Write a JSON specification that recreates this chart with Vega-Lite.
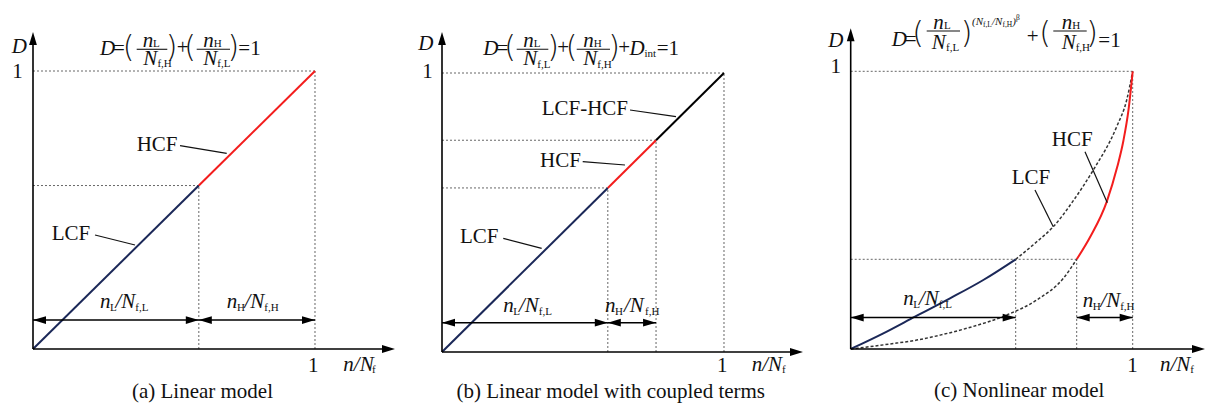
{
"$schema": "https://vega.github.io/schema/vega-lite/v6.json",
"padding": 0,
"background": "white",
"spacing": 0,
"bounds": "flush",
"config": {"view": {"stroke": null}},
"datasets": {
"lines": [
{"p":"a","s":"LCF","x":0,"y":0},{"p":"a","s":"LCF","x":0.588,"y":0.588},
{"p":"a","s":"HCF","x":0.588,"y":0.588},{"p":"a","s":"HCF","x":1,"y":1},
{"p":"b","s":"LCF","x":0,"y":0},{"p":"b","s":"LCF","x":0.588,"y":0.588},
{"p":"b","s":"HCF","x":0.588,"y":0.588},{"p":"b","s":"HCF","x":0.759,"y":0.759},
{"p":"b","s":"LCF-HCF","x":0.759,"y":0.759},{"p":"b","s":"LCF-HCF","x":1,"y":1},
{"p":"c","s":"LCF","x":0,"y":0},{"p":"c","s":"LCF","x":0.1157,"y":0.0564},{"p":"c","s":"LCF","x":0.228,"y":0.1164},{"p":"c","s":"LCF","x":0.3521,"y":0.1824},{"p":"c","s":"LCF","x":0.4702,"y":0.2485},{"p":"c","s":"LCF","x":0.5851,"y":0.323},
{"p":"c","s":"LCFd","x":0.5851,"y":0.323},{"p":"c","s":"LCFd","x":0.6596,"y":0.386},{"p":"c","s":"LCFd","x":0.7184,"y":0.4404},{"p":"c","s":"LCFd","x":0.79,"y":0.535},{"p":"c","s":"LCFd","x":0.8603,"y":0.6446},{"p":"c","s":"LCFd","x":0.943,"y":0.8},{"p":"c","s":"LCFd","x":0.9787,"y":0.8966},{"p":"c","s":"LCFd","x":1,"y":1},
{"p":"c","s":"HCFd","x":0,"y":0},{"p":"c","s":"HCFd","x":0.139,"y":0.018},{"p":"c","s":"HCFd","x":0.234,"y":0.032},{"p":"c","s":"HCFd","x":0.317,"y":0.05},{"p":"c","s":"HCFd","x":0.411,"y":0.0745},{"p":"c","s":"HCFd","x":0.553,"y":0.1224},{"p":"c","s":"HCFd","x":0.6596,"y":0.1764},{"p":"c","s":"HCFd","x":0.754,"y":0.2545},{"p":"c","s":"HCFd","x":0.8014,"y":0.323},
{"p":"c","s":"HCF","x":0.8014,"y":0.323},{"p":"c","s":"HCF","x":0.85,"y":0.405},{"p":"c","s":"HCF","x":0.9078,"y":0.53},{"p":"c","s":"HCF","x":0.945,"y":0.655},{"p":"c","s":"HCF","x":0.967,"y":0.75},{"p":"c","s":"HCF","x":0.985,"y":0.86},{"p":"c","s":"HCF","x":1,"y":1}
],
"rules": [
{"p":"a","k":"ax","x":0,"y":0,"x2":1.266,"y2":0},{"p":"a","k":"ax","x":0,"y":0,"x2":0,"y2":1.122},
{"p":"a","k":"g","x":0,"y":1,"x2":1,"y2":1},{"p":"a","k":"g","x":1,"y":0,"x2":1,"y2":1},
{"p":"a","k":"g","x":0,"y":0.588,"x2":0.588,"y2":0.588},{"p":"a","k":"g","x":0.588,"y":0,"x2":0.588,"y2":0.588},
{"p":"a","k":"d","x":0,"y":0.104,"x2":0.588,"y2":0.104},{"p":"a","k":"d","x":0.588,"y":0.104,"x2":1,"y2":0.104},
{"p":"a","k":"ld","x":0.5213,"y":0.7313,"x2":0.6869,"y2":0.704},{"p":"a","k":"ld","x":0.2199,"y":0.4101,"x2":0.3617,"y2":0.3741},
{"p":"a","k":"fb","x":0.3677,"y":1.0781,"x2":0.4762,"y2":1.0781},{"p":"a","k":"fb","x":0.5805,"y":1.0781,"x2":0.6986,"y2":1.0781},
{"p":"b","k":"ax","x":0,"y":0,"x2":1.2624,"y2":0},{"p":"b","k":"ax","x":0,"y":0,"x2":0,"y2":1.129},
{"p":"b","k":"g","x":0,"y":1,"x2":1,"y2":1},{"p":"b","k":"g","x":1,"y":0,"x2":1,"y2":1},
{"p":"b","k":"g","x":0,"y":0.588,"x2":0.588,"y2":0.588},{"p":"b","k":"g","x":0.588,"y":0,"x2":0.588,"y2":0.588},
{"p":"b","k":"g","x":0,"y":0.759,"x2":0.759,"y2":0.759},{"p":"b","k":"g","x":0.759,"y":0,"x2":0.759,"y2":0.759},
{"p":"b","k":"d","x":0,"y":0.105,"x2":0.588,"y2":0.105},{"p":"b","k":"d","x":0.588,"y":0.105,"x2":0.759,"y2":0.105},
{"p":"b","k":"ld","x":0.6667,"y":0.8674,"x2":0.8298,"y2":0.8434},{"p":"b","k":"ld","x":0.4989,"y":0.6821,"x2":0.6489,"y2":0.6703},{"p":"b","k":"ld","x":0.2174,"y":0.4075,"x2":0.3535,"y2":0.3717},
{"p":"b","k":"fb","x":0.2649,"y":1.0849,"x2":0.377,"y2":1.0849},{"p":"b","k":"fb","x":0.4777,"y":1.0849,"x2":0.5957,"y2":1.0849},
{"p":"c","k":"ax","x":0,"y":0,"x2":1.2387,"y2":0},{"p":"c","k":"ax","x":0,"y":0,"x2":0,"y2":1.1368},
{"p":"c","k":"g","x":0,"y":1,"x2":1,"y2":1},{"p":"c","k":"g","x":1,"y":0,"x2":1,"y2":1},
{"p":"c","k":"g","x":0,"y":0.323,"x2":0.8014,"y2":0.323},{"p":"c","k":"g","x":0.5851,"y":0,"x2":0.5851,"y2":0.323},{"p":"c","k":"g","x":0.8014,"y":0,"x2":0.8014,"y2":0.323},
{"p":"c","k":"d","x":0,"y":0.113,"x2":0.5851,"y2":0.113},{"p":"c","k":"d","x":0.8014,"y":0.113,"x2":1,"y2":0.113},
{"p":"c","k":"ld","x":0.8309,"y":0.7105,"x2":0.9099,"y2":0.5268},{"p":"c","k":"ld","x":0.6535,"y":0.5726,"x2":0.7184,"y2":0.4404},
{"p":"c","k":"fb","x":0.2695,"y":1.1451,"x2":0.3876,"y2":1.1451},{"p":"c","k":"fb","x":0.7184,"y":1.1451,"x2":0.8369,"y2":1.1451}
],
"heads": [
{"p":"a","x":1.2837,"y":0,"d":"r"},{"p":"a","x":0,"y":1.1403,"d":"u"},{"p":"a","x":0,"y":0.104,"d":"l"},{"p":"a","x":0.588,"y":0.104,"d":"r"},{"p":"a","x":0.588,"y":0.104,"d":"l"},{"p":"a","x":1,"y":0.104,"d":"r"},
{"p":"b","x":1.2801,"y":0,"d":"r"},{"p":"b","x":0,"y":1.147,"d":"u"},{"p":"b","x":0,"y":0.105,"d":"l"},{"p":"b","x":0.588,"y":0.105,"d":"r"},{"p":"b","x":0.588,"y":0.105,"d":"l"},{"p":"b","x":0.759,"y":0.105,"d":"r"},
{"p":"c","x":1.2564,"y":0,"d":"r"},{"p":"c","x":0,"y":1.1548,"d":"u"},{"p":"c","x":0,"y":0.113,"d":"l"},{"p":"c","x":0.5851,"y":0.113,"d":"r"},{"p":"c","x":0.8014,"y":0.113,"d":"l"},{"p":"c","x":1,"y":0.113,"d":"r"}
],
"texts": [
{"p":"a","r":"it","x":-0.0755,"y":1.0637,"t":"D"},
{"p":"a","r":"ct","x":-0.055,"y":0.9737,"t":"1"},
{"p":"a","r":"ct","x":0.994,"y":-0.0816,"t":"1"},
{"p":"a","r":"it","x":1.1004,"y":-0.078,"t":"n/N"},
{"p":"a","r":"sb","x":1.2018,"y":-0.0874,"t":"f"},
{"p":"a","r":"rm","x":0.3677,"y":0.7133,"t":"HCF"},
{"p":"a","r":"rm","x":0.0663,"y":0.3921,"t":"LCF"},
{"p":"a","r":"it","x":0.2376,"y":0.1464,"t":"n"},
{"p":"a","r":"sb","x":0.273,"y":0.1349,"t":"L"},
{"p":"a","r":"it","x":0.2926,"y":0.1464,"t":"/N"},
{"p":"a","r":"sb","x":0.3628,"y":0.1349,"t":"f,L"},
{"p":"a","r":"it","x":0.6869,"y":0.1464,"t":"n"},
{"p":"a","r":"sb","x":0.7234,"y":0.1349,"t":"H"},
{"p":"a","r":"it","x":0.75,"y":0.1464,"t":"/N"},
{"p":"a","r":"sb","x":0.8202,"y":0.1349,"t":"f,H"},
{"p":"a","r":"it","x":0.2376,"y":1.0576,"t":"D"},
{"p":"a","r":"rm","x":0.2837,"y":1.0576,"t":"="},
{"p":"a","r":"pr","x":0.3387,"y":1.0486,"t":"("},
{"p":"a","r":"it","x":0.389,"y":1.0863,"t":"n"},
{"p":"a","r":"sb","x":0.4255,"y":1.0874,"t":"L"},
{"p":"a","r":"it","x":0.3911,"y":1.0216,"t":"N"},
{"p":"a","r":"sb","x":0.4411,"y":1.0126,"t":"f,H"},
{"p":"a","r":"pr","x":0.4911,"y":1.0486,"t":")"},
{"p":"a","r":"rm","x":0.5096,"y":1.0612,"t":"+"},
{"p":"a","r":"pr","x":0.5567,"y":1.0486,"t":"("},
{"p":"a","r":"it","x":0.6039,"y":1.0863,"t":"n"},
{"p":"a","r":"sb","x":0.6411,"y":1.0874,"t":"H"},
{"p":"a","r":"it","x":0.6039,"y":1.0216,"t":"N"},
{"p":"a","r":"sb","x":0.6535,"y":1.0126,"t":"f,L"},
{"p":"a","r":"pr","x":0.7103,"y":1.0486,"t":")"},
{"p":"a","r":"rm","x":0.728,"y":1.0576,"t":"=1"},
{"p":"a","r":"ct","x":0.601,"y":-0.1745,"t":"(a) Linear model"},
{"p":"b","r":"it","x":-0.084,"y":1.0824,"t":"D"},
{"p":"b","r":"ct","x":-0.0514,"y":0.981,"t":"1"},
{"p":"b","r":"ct","x":0.994,"y":-0.0706,"t":"1"},
{"p":"b","r":"it","x":1.098,"y":-0.067,"t":"n/N"},
{"p":"b","r":"sb","x":1.2057,"y":-0.0763,"t":"f"},
{"p":"b","r":"rm","x":0.3535,"y":0.8495,"t":"LCF-HCF"},
{"p":"b","r":"rm","x":0.3475,"y":0.6642,"t":"HCF"},
{"p":"b","r":"rm","x":0.0638,"y":0.3918,"t":"LCF"},
{"p":"b","r":"it","x":0.2174,"y":0.1444,"t":"n"},
{"p":"b","r":"sb","x":0.2528,"y":0.1326,"t":"L"},
{"p":"b","r":"it","x":0.273,"y":0.1444,"t":"/N"},
{"p":"b","r":"sb","x":0.3433,"y":0.1326,"t":"f,L"},
{"p":"b","r":"it","x":0.578,"y":0.1444,"t":"n"},
{"p":"b","r":"sb","x":0.6135,"y":0.1326,"t":"H"},
{"p":"b","r":"it","x":0.6454,"y":0.1444,"t":"/N"},
{"p":"b","r":"sb","x":0.7199,"y":0.1326,"t":"f,H"},
{"p":"b","r":"it","x":0.1465,"y":1.0645,"t":"D"},
{"p":"b","r":"rm","x":0.1933,"y":1.0645,"t":"="},
{"p":"b","r":"pr","x":0.2411,"y":1.0556,"t":"("},
{"p":"b","r":"it","x":0.2883,"y":1.0932,"t":"n"},
{"p":"b","r":"sb","x":0.3255,"y":1.0943,"t":"L"},
{"p":"b","r":"it","x":0.2883,"y":1.0287,"t":"N"},
{"p":"b","r":"sb","x":0.3379,"y":1.0197,"t":"f,L"},
{"p":"b","r":"pr","x":0.3936,"y":1.0556,"t":")"},
{"p":"b","r":"rm","x":0.4089,"y":1.0681,"t":"+"},
{"p":"b","r":"pr","x":0.4599,"y":1.0556,"t":"("},
{"p":"b","r":"it","x":0.5011,"y":1.0932,"t":"n"},
{"p":"b","r":"sb","x":0.5383,"y":1.0943,"t":"H"},
{"p":"b","r":"it","x":0.5011,"y":1.0287,"t":"N"},
{"p":"b","r":"sb","x":0.5507,"y":1.0197,"t":"f,H"},
{"p":"b","r":"pr","x":0.6099,"y":1.0556,"t":")"},
{"p":"b","r":"rm","x":0.6252,"y":1.0681,"t":"+"},
{"p":"b","r":"it","x":0.665,"y":1.0645,"t":"D"},
{"p":"b","r":"sb","x":0.7182,"y":1.0563,"t":"int"},
{"p":"b","r":"rm","x":0.7614,"y":1.0645,"t":"=1"},
{"p":"b","r":"ct","x":0.5986,"y":-0.1631,"t":"(b) Linear model with coupled terms"},
{"p":"c","r":"it","x":-0.0794,"y":1.0886,"t":"D"},
{"p":"c","r":"ct","x":-0.0528,"y":0.9928,"t":"1"},
{"p":"c","r":"ct","x":0.9993,"y":-0.0817,"t":"1"},
{"p":"c","r":"it","x":1.0968,"y":-0.0781,"t":"n/N"},
{"p":"c","r":"sb","x":1.2043,"y":-0.0877,"t":"f"},
{"p":"c","r":"rm","x":0.7128,"y":0.731,"t":"HCF"},
{"p":"c","r":"rm","x":0.5709,"y":0.5942,"t":"LCF"},
{"p":"c","r":"it","x":0.1865,"y":0.1602,"t":"n"},
{"p":"c","r":"sb","x":0.222,"y":0.1484,"t":"L"},
{"p":"c","r":"it","x":0.2422,"y":0.1602,"t":"/N"},
{"p":"c","r":"sb","x":0.3124,"y":0.1484,"t":"f,L"},
{"p":"c","r":"it","x":0.8227,"y":0.1523,"t":"n"},
{"p":"c","r":"sb","x":0.8582,"y":0.1404,"t":"H"},
{"p":"c","r":"it","x":0.8855,"y":0.1523,"t":"/N"},
{"p":"c","r":"sb","x":0.9557,"y":0.1404,"t":"f,H"},
{"p":"c","r":"it","x":0.1454,"y":1.0911,"t":"D"},
{"p":"c","r":"rm","x":0.1918,"y":1.0911,"t":"="},
{"p":"c","r":"pr","x":0.2387,"y":1.1019,"t":"("},
{"p":"c","r":"it","x":0.2929,"y":1.1541,"t":"n"},
{"p":"c","r":"sb","x":0.3309,"y":1.1541,"t":"L"},
{"p":"c","r":"it","x":0.2872,"y":1.0814,"t":"N"},
{"p":"c","r":"sb","x":0.3379,"y":1.0731,"t":"f,L"},
{"p":"c","r":"pr","x":0.4113,"y":1.1019,"t":")"},
{"p":"c","r":"ei","x":0.4301,"y":1.1667,"t":"(N"},
{"p":"c","r":"es","x":0.4691,"y":1.1595,"t":"f,L"},
{"p":"c","r":"ei","x":0.5011,"y":1.1667,"t":"/N"},
{"p":"c","r":"es","x":0.5379,"y":1.1595,"t":"f,H"},
{"p":"c","r":"ei","x":0.5727,"y":1.1667,"t":")"},
{"p":"c","r":"es","x":0.5862,"y":1.1847,"t":"β"},
{"p":"c","r":"rm","x":0.6241,"y":1.1019,"t":"+"},
{"p":"c","r":"pr","x":0.689,"y":1.1019,"t":"("},
{"p":"c","r":"it","x":0.7482,"y":1.1541,"t":"n"},
{"p":"c","r":"sb","x":0.7855,"y":1.1541,"t":"H"},
{"p":"c","r":"it","x":0.7482,"y":1.0814,"t":"N"},
{"p":"c","r":"sb","x":0.7979,"y":1.0731,"t":"f,H"},
{"p":"c","r":"pr","x":0.8557,"y":1.1019,"t":")"},
{"p":"c","r":"rm","x":0.878,"y":1.0875,"t":"=1"},
{"p":"c","r":"ct","x":0.5975,"y":-0.1746,"t":"(c) Nonlinear model"}
]
},
"hconcat": [
{
"width": 405, "height": 406,
"encoding": {
"x": {"field": "x", "type": "quantitative", "scale": {"domain": [-0.117021, 1.319149], "nice": false, "zero": false}, "axis": null},
"y": {"field": "y", "type": "quantitative", "scale": {"domain": [-0.205036, 1.255396], "nice": false, "zero": false}, "axis": null}
},
"layer": [
{"data": {"name": "rules"}, "transform": [{"filter": "datum.p=='a' && datum.k=='g'"}], "mark": {"type": "rule", "color": "#666666", "strokeDash": [2, 2], "strokeWidth": 1}, "encoding": {"x2": {"field": "x2"}, "y2": {"field": "y2"}}},
{"data": {"name": "lines"}, "transform": [{"filter": "datum.p=='a'"}], "mark": {"type": "line", "strokeWidth": 2, "interpolate": "monotone"}, "encoding": {"color": {"field": "s", "type": "nominal", "scale": {"domain": ["LCF", "HCF", "LCF-HCF"], "range": ["#1b2858", "#f31d1d", "#000000"]}, "legend": null}}},
{"data": {"name": "rules"}, "transform": [{"filter": "datum.p=='a' && datum.k=='ax'"}], "mark": {"type": "rule", "color": "#000000", "strokeWidth": 1.6}, "encoding": {"x2": {"field": "x2"}, "y2": {"field": "y2"}}},
{"data": {"name": "rules"}, "transform": [{"filter": "datum.p=='a' && datum.k=='d'"}], "mark": {"type": "rule", "color": "#000000", "strokeWidth": 1.5}, "encoding": {"x2": {"field": "x2"}, "y2": {"field": "y2"}}},
{"data": {"name": "rules"}, "transform": [{"filter": "datum.p=='a' && datum.k=='ld'"}], "mark": {"type": "rule", "color": "#111111", "strokeWidth": 1.2}, "encoding": {"x2": {"field": "x2"}, "y2": {"field": "y2"}}},
{"data": {"name": "rules"}, "transform": [{"filter": "datum.p=='a' && datum.k=='fb'"}], "mark": {"type": "rule", "color": "#111111", "strokeWidth": 1.1}, "encoding": {"x2": {"field": "x2"}, "y2": {"field": "y2"}}},
{"data": {"name": "heads"}, "transform": [{"filter": "datum.p=='a'"}], "mark": {"type": "point", "filled": true, "opacity": 1, "color": "#000000", "size": 169, "strokeWidth": 0}, "encoding": {"shape": {"field": "d", "type": "nominal", "scale": {"domain": ["l", "r", "u"], "range": ["M0,0L2,-0.6L2,0.6Z", "M0,0L-2,-0.6L-2,0.6Z", "M0,0L-0.6,2L0.6,2Z"]}, "legend": null}}},
{"data": {"name": "texts"}, "transform": [{"filter": "datum.p=='a' && datum.r=='it'"}], "mark": {"type": "text", "font": "Liberation Serif", "fontSize": 21, "fontStyle": "italic", "align": "left", "baseline": "alphabetic", "color": "#111111"}, "encoding": {"text": {"field": "t"}}},
{"data": {"name": "texts"}, "transform": [{"filter": "datum.p=='a' && datum.r=='rm'"}], "mark": {"type": "text", "font": "Liberation Serif", "fontSize": 21, "align": "left", "baseline": "alphabetic", "color": "#111111"}, "encoding": {"text": {"field": "t"}}},
{"data": {"name": "texts"}, "transform": [{"filter": "datum.p=='a' && datum.r=='ct'"}], "mark": {"type": "text", "font": "Liberation Serif", "fontSize": 21, "align": "center", "baseline": "alphabetic", "color": "#111111"}, "encoding": {"text": {"field": "t"}}},
{"data": {"name": "texts"}, "transform": [{"filter": "datum.p=='a' && datum.r=='sb'"}], "mark": {"type": "text", "font": "Liberation Serif", "fontSize": 11, "align": "left", "baseline": "alphabetic", "color": "#111111"}, "encoding": {"text": {"field": "t"}}},
{"data": {"name": "texts"}, "transform": [{"filter": "datum.p=='a' && datum.r=='pr'"}], "mark": {"type": "text", "font": "DejaVu Sans", "fontWeight": 200, "fontSize": 30, "align": "center", "baseline": "alphabetic", "color": "#111111"}, "encoding": {"text": {"field": "t"}}}
]
},
{
"width": 405, "height": 406,
"encoding": {
"x": {"field": "x", "type": "quantitative", "scale": {"domain": [-0.131206, 1.304965], "nice": false, "zero": false}, "axis": null},
"y": {"field": "y", "type": "quantitative", "scale": {"domain": [-0.193548, 1.261649], "nice": false, "zero": false}, "axis": null}
},
"layer": [
{"data": {"name": "rules"}, "transform": [{"filter": "datum.p=='b' && datum.k=='g'"}], "mark": {"type": "rule", "color": "#666666", "strokeDash": [2, 2], "strokeWidth": 1}, "encoding": {"x2": {"field": "x2"}, "y2": {"field": "y2"}}},
{"data": {"name": "lines"}, "transform": [{"filter": "datum.p=='b'"}], "mark": {"type": "line", "strokeWidth": 2, "interpolate": "monotone"}, "encoding": {"color": {"field": "s", "type": "nominal", "scale": {"domain": ["LCF", "HCF", "LCF-HCF"], "range": ["#1b2858", "#f31d1d", "#000000"]}, "legend": null}}},
{"data": {"name": "rules"}, "transform": [{"filter": "datum.p=='b' && datum.k=='ax'"}], "mark": {"type": "rule", "color": "#000000", "strokeWidth": 1.6}, "encoding": {"x2": {"field": "x2"}, "y2": {"field": "y2"}}},
{"data": {"name": "rules"}, "transform": [{"filter": "datum.p=='b' && datum.k=='d'"}], "mark": {"type": "rule", "color": "#000000", "strokeWidth": 1.5}, "encoding": {"x2": {"field": "x2"}, "y2": {"field": "y2"}}},
{"data": {"name": "rules"}, "transform": [{"filter": "datum.p=='b' && datum.k=='ld'"}], "mark": {"type": "rule", "color": "#111111", "strokeWidth": 1.2}, "encoding": {"x2": {"field": "x2"}, "y2": {"field": "y2"}}},
{"data": {"name": "rules"}, "transform": [{"filter": "datum.p=='b' && datum.k=='fb'"}], "mark": {"type": "rule", "color": "#111111", "strokeWidth": 1.1}, "encoding": {"x2": {"field": "x2"}, "y2": {"field": "y2"}}},
{"data": {"name": "heads"}, "transform": [{"filter": "datum.p=='b'"}], "mark": {"type": "point", "filled": true, "opacity": 1, "color": "#000000", "size": 169, "strokeWidth": 0}, "encoding": {"shape": {"field": "d", "type": "nominal", "scale": {"domain": ["l", "r", "u"], "range": ["M0,0L2,-0.6L2,0.6Z", "M0,0L-2,-0.6L-2,0.6Z", "M0,0L-0.6,2L0.6,2Z"]}, "legend": null}}},
{"data": {"name": "texts"}, "transform": [{"filter": "datum.p=='b' && datum.r=='it'"}], "mark": {"type": "text", "font": "Liberation Serif", "fontSize": 21, "fontStyle": "italic", "align": "left", "baseline": "alphabetic", "color": "#111111"}, "encoding": {"text": {"field": "t"}}},
{"data": {"name": "texts"}, "transform": [{"filter": "datum.p=='b' && datum.r=='rm'"}], "mark": {"type": "text", "font": "Liberation Serif", "fontSize": 21, "align": "left", "baseline": "alphabetic", "color": "#111111"}, "encoding": {"text": {"field": "t"}}},
{"data": {"name": "texts"}, "transform": [{"filter": "datum.p=='b' && datum.r=='ct'"}], "mark": {"type": "text", "font": "Liberation Serif", "fontSize": 21, "align": "center", "baseline": "alphabetic", "color": "#111111"}, "encoding": {"text": {"field": "t"}}},
{"data": {"name": "texts"}, "transform": [{"filter": "datum.p=='b' && datum.r=='sb'"}], "mark": {"type": "text", "font": "Liberation Serif", "fontSize": 11, "align": "left", "baseline": "alphabetic", "color": "#111111"}, "encoding": {"text": {"field": "t"}}},
{"data": {"name": "texts"}, "transform": [{"filter": "datum.p=='b' && datum.r=='pr'"}], "mark": {"type": "text", "font": "DejaVu Sans", "fontWeight": 200, "fontSize": 30, "align": "center", "baseline": "alphabetic", "color": "#111111"}, "encoding": {"text": {"field": "t"}}}
]
},
{
"width": 397, "height": 406,
"encoding": {
"x": {"field": "x", "type": "quantitative", "scale": {"domain": [-0.144326, 1.263475], "nice": false, "zero": false}, "axis": null},
"y": {"field": "y", "type": "quantitative", "scale": {"domain": [-0.205258, 1.256752], "nice": false, "zero": false}, "axis": null}
},
"layer": [
{"data": {"name": "rules"}, "transform": [{"filter": "datum.p=='c' && datum.k=='g'"}], "mark": {"type": "rule", "color": "#666666", "strokeDash": [2, 2], "strokeWidth": 1}, "encoding": {"x2": {"field": "x2"}, "y2": {"field": "y2"}}},
{"data": {"name": "lines"}, "transform": [{"filter": "datum.p=='c' && (datum.s=='LCFd' || datum.s=='HCFd')"}], "mark": {"type": "line", "strokeWidth": 1.5, "strokeDash": [3, 2], "color": "#333333", "interpolate": "monotone"}, "encoding": {"detail": {"field": "s", "type": "nominal"}}},
{"data": {"name": "lines"}, "transform": [{"filter": "datum.p=='c' && (datum.s=='LCF' || datum.s=='HCF')"}], "mark": {"type": "line", "strokeWidth": 2, "interpolate": "monotone"}, "encoding": {"color": {"field": "s", "type": "nominal", "scale": {"domain": ["LCF", "HCF", "LCF-HCF"], "range": ["#1b2858", "#f31d1d", "#000000"]}, "legend": null}}},
{"data": {"name": "rules"}, "transform": [{"filter": "datum.p=='c' && datum.k=='ax'"}], "mark": {"type": "rule", "color": "#000000", "strokeWidth": 1.6}, "encoding": {"x2": {"field": "x2"}, "y2": {"field": "y2"}}},
{"data": {"name": "rules"}, "transform": [{"filter": "datum.p=='c' && datum.k=='d'"}], "mark": {"type": "rule", "color": "#000000", "strokeWidth": 1.5}, "encoding": {"x2": {"field": "x2"}, "y2": {"field": "y2"}}},
{"data": {"name": "rules"}, "transform": [{"filter": "datum.p=='c' && datum.k=='ld'"}], "mark": {"type": "rule", "color": "#111111", "strokeWidth": 1.2}, "encoding": {"x2": {"field": "x2"}, "y2": {"field": "y2"}}},
{"data": {"name": "rules"}, "transform": [{"filter": "datum.p=='c' && datum.k=='fb'"}], "mark": {"type": "rule", "color": "#111111", "strokeWidth": 1.1}, "encoding": {"x2": {"field": "x2"}, "y2": {"field": "y2"}}},
{"data": {"name": "heads"}, "transform": [{"filter": "datum.p=='c'"}], "mark": {"type": "point", "filled": true, "opacity": 1, "color": "#000000", "size": 169, "strokeWidth": 0}, "encoding": {"shape": {"field": "d", "type": "nominal", "scale": {"domain": ["l", "r", "u"], "range": ["M0,0L2,-0.6L2,0.6Z", "M0,0L-2,-0.6L-2,0.6Z", "M0,0L-0.6,2L0.6,2Z"]}, "legend": null}}},
{"data": {"name": "texts"}, "transform": [{"filter": "datum.p=='c' && datum.r=='it'"}], "mark": {"type": "text", "font": "Liberation Serif", "fontSize": 21, "fontStyle": "italic", "align": "left", "baseline": "alphabetic", "color": "#111111"}, "encoding": {"text": {"field": "t"}}},
{"data": {"name": "texts"}, "transform": [{"filter": "datum.p=='c' && datum.r=='rm'"}], "mark": {"type": "text", "font": "Liberation Serif", "fontSize": 21, "align": "left", "baseline": "alphabetic", "color": "#111111"}, "encoding": {"text": {"field": "t"}}},
{"data": {"name": "texts"}, "transform": [{"filter": "datum.p=='c' && datum.r=='ct'"}], "mark": {"type": "text", "font": "Liberation Serif", "fontSize": 21, "align": "center", "baseline": "alphabetic", "color": "#111111"}, "encoding": {"text": {"field": "t"}}},
{"data": {"name": "texts"}, "transform": [{"filter": "datum.p=='c' && datum.r=='sb'"}], "mark": {"type": "text", "font": "Liberation Serif", "fontSize": 11, "align": "left", "baseline": "alphabetic", "color": "#111111"}, "encoding": {"text": {"field": "t"}}},
{"data": {"name": "texts"}, "transform": [{"filter": "datum.p=='c' && datum.r=='pr'"}], "mark": {"type": "text", "font": "DejaVu Sans", "fontWeight": 200, "fontSize": 30, "align": "center", "baseline": "alphabetic", "color": "#111111"}, "encoding": {"text": {"field": "t"}}},
{"data": {"name": "texts"}, "transform": [{"filter": "datum.p=='c' && datum.r=='ei'"}], "mark": {"type": "text", "font": "Liberation Serif", "fontSize": 11, "fontStyle": "italic", "align": "left", "baseline": "alphabetic", "color": "#111111"}, "encoding": {"text": {"field": "t"}}},
{"data": {"name": "texts"}, "transform": [{"filter": "datum.p=='c' && datum.r=='es'"}], "mark": {"type": "text", "font": "Liberation Serif", "fontSize": 7.5, "align": "left", "baseline": "alphabetic", "color": "#111111"}, "encoding": {"text": {"field": "t"}}}
]
}
]
}
